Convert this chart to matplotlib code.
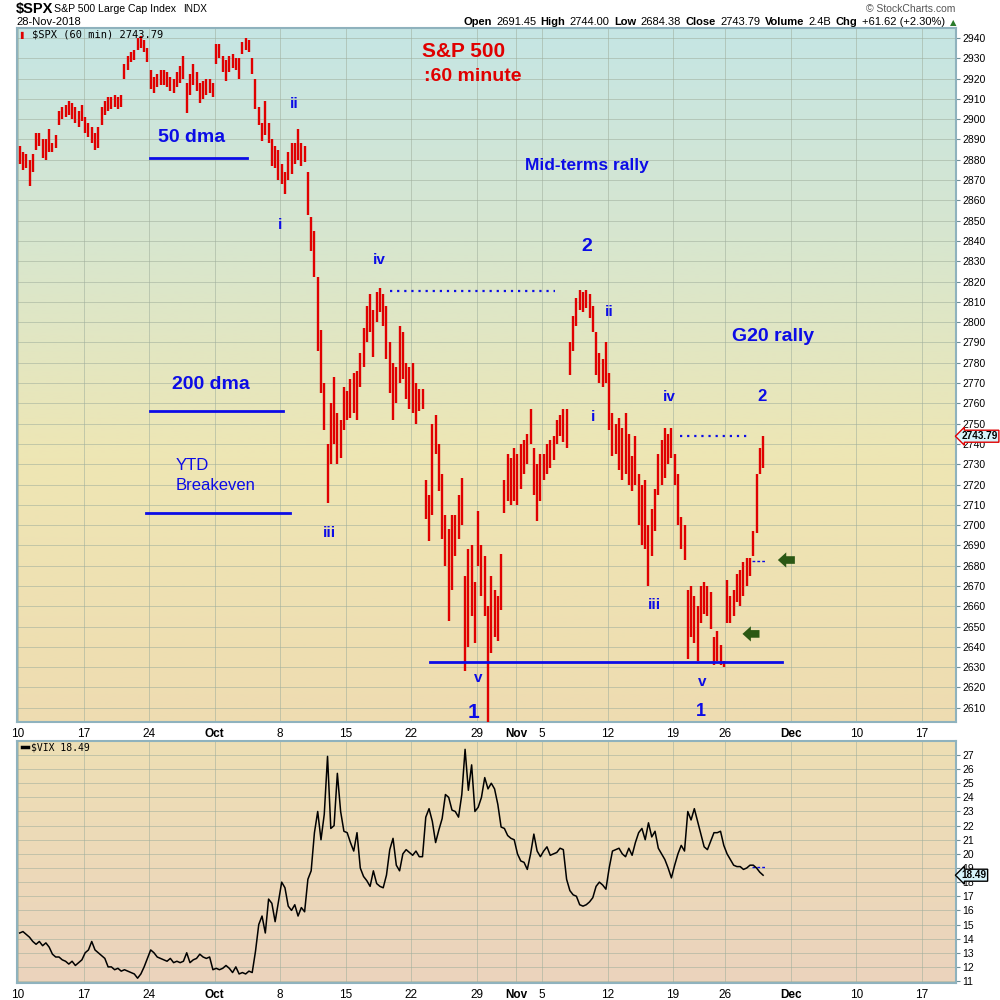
import numpy as np
import matplotlib
matplotlib.use('Agg')
import matplotlib.pyplot as plt
import matplotlib.transforms as mtransforms
from matplotlib.colors import to_rgb
from matplotlib.offsetbox import TextArea, HPacker, AnchoredOffsetbox

plt.rcParams['font.family'] = ['Liberation Sans', 'DejaVu Sans']

# x axis: trading day index, 0 = 10 Sep 2018 (Thanksgiving skipped)
tick_pos = [0, 5, 10, 15, 20, 25, 30, 35, 38, 40, 45, 50, 54, 59, 64, 69]
tick_lbl = ['10', '17', '24', 'Oct', '8', '15', '22', '29', 'Nov', '5', '12', '19', '26', 'Dec', '10', '17']
month_lbl = ['Oct', 'Nov', 'Dec']

# $SPX 60 min, 4 (low, high) bars per trading day
spx_hourly = [
    [(2878, 2887), (2875, 2884), (2876, 2883), (2867, 2880)],
    [(2874, 2883), (2885, 2893), (2887, 2893), (2881, 2890)],
    [(2880, 2890), (2884, 2895), (2884, 2888), (2886, 2892)],
    [(2897, 2904), (2900, 2906), (2901, 2907), (2902, 2909)],
    [(2900, 2908), (2898, 2906), (2896, 2904), (2899, 2907)],
    [(2893, 2901), (2891, 2898), (2888, 2896), (2885, 2893)],
    [(2886, 2896), (2897, 2906), (2902, 2909), (2904, 2911)],
    [(2905, 2911), (2906, 2912), (2905, 2911), (2906, 2912)],
    [(2920, 2927), (2924, 2931), (2928, 2933), (2929, 2934)],
    [(2934, 2940), (2935, 2941), (2933, 2939), (2928, 2935)],
    [(2915, 2924), (2913, 2921), (2916, 2922), (2917, 2924)],
    [(2917, 2924), (2916, 2923), (2914, 2921), (2913, 2920)],
    [(2916, 2923), (2918, 2926), (2920, 2931), (2903, 2918)],
    [(2912, 2922), (2917, 2927), (2914, 2923), (2908, 2918)],
    [(2910, 2919), (2912, 2920), (2913, 2920), (2911, 2918)],
    [(2927, 2937), (2930, 2937), (2923, 2931), (2919, 2929)],
    [(2923, 2931), (2925, 2932), (2924, 2930), (2920, 2930)],
    [(2932, 2938), (2934, 2940), (2933, 2939), (2922, 2930)],
    [(2905, 2920), (2897, 2906), (2889, 2898), (2892, 2909)],
    [(2888, 2898), (2877, 2890), (2876, 2887), (2870, 2885)],
    [(2868, 2878), (2863, 2874), (2870, 2884), (2873, 2888)],
    [(2878, 2888), (2880, 2895), (2877, 2888), (2879, 2887)],
    [(2853, 2874), (2835, 2852), (2822, 2845), (2786, 2822)],
    [(2765, 2796), (2747, 2770), (2711, 2740), (2730, 2760)],
    [(2740, 2773), (2730, 2755), (2733, 2752), (2747, 2768)],
    [(2752, 2766), (2753, 2772), (2755, 2775), (2752, 2776)],
    [(2768, 2785), (2778, 2797), (2790, 2808), (2795, 2814)],
    [(2783, 2806), (2800, 2815), (2805, 2817), (2798, 2814)],
    [(2782, 2808), (2765, 2790), (2752, 2780), (2760, 2778)],
    [(2770, 2798), (2772, 2795), (2762, 2780), (2757, 2778)],
    [(2755, 2780), (2750, 2770), (2756, 2767), (2757, 2767)],
    [(2703, 2722), (2692, 2715), (2705, 2750), (2735, 2754)],
    [(2717, 2740), (2693, 2725), (2680, 2705), (2653, 2698)],
    [(2668, 2705), (2685, 2705), (2693, 2715), (2700, 2723)],
    [(2628, 2675), (2640, 2688), (2655, 2690), (2642, 2672)],
    [(2680, 2707), (2665, 2690), (2655, 2685), (2603, 2660)],
    [(2637, 2675), (2645, 2668), (2643, 2665), (2658, 2686)],
    [(2706, 2722), (2712, 2735), (2710, 2733), (2712, 2738)],
    [(2710, 2735), (2718, 2740), (2725, 2742), (2730, 2745)],
    [(2740, 2757), (2715, 2738), (2702, 2730), (2712, 2735)],
    [(2722, 2735), (2725, 2740), (2728, 2742), (2732, 2744)],
    [(2740, 2752), (2744, 2754), (2741, 2757), (2738, 2757)],
    [(2774, 2790), (2786, 2803), (2798, 2812), (2806, 2816)],
    [(2805, 2815), (2807, 2816), (2802, 2814), (2795, 2808)],
    [(2774, 2795), (2770, 2785), (2768, 2782), (2770, 2790)],
    [(2747, 2775), (2734, 2755), (2735, 2750), (2727, 2753)],
    [(2722, 2748), (2725, 2755), (2720, 2745), (2717, 2734)],
    [(2720, 2744), (2700, 2725), (2690, 2720), (2688, 2722)],
    [(2670, 2700), (2685, 2708), (2697, 2718), (2715, 2735)],
    [(2720, 2742), (2723, 2748), (2730, 2745), (2733, 2748)],
    [(2720, 2735), (2700, 2725), (2688, 2704), (2683, 2700)],
    [(2634, 2668), (2645, 2670), (2642, 2665), (2633, 2660)],
    [(2652, 2670), (2656, 2672), (2655, 2670), (2649, 2667)],
    [(2631, 2645), (2633, 2648), (2631, 2641), (2630, 2633)],
    [(2652, 2673), (2652, 2665), (2655, 2668), (2662, 2676)],
    [(2660, 2678), (2665, 2682), (2670, 2684), (2675, 2684)],
    [(2685, 2697), (2696, 2725), (2725, 2738), (2728, 2744)],
]

# $VIX 60 min, 4 values per trading day
vix_hourly = [
    [14.4, 14.5, 14.3, 14.1], [13.8, 13.6, 13.8, 13.5], [13.7, 13.4, 12.9, 12.7],
    [12.7, 12.5, 12.4, 12.2], [12.4, 12.1, 12.3, 12.5], [13.0, 13.2, 13.8, 13.2],
    [13.0, 12.8, 12.6, 12.0], [12.0, 11.8, 11.9, 11.7], [11.8, 11.7, 11.6, 11.5],
    [11.2, 11.5, 12.0, 12.6], [13.2, 13.0, 12.7, 12.6], [12.5, 12.4, 12.6, 12.3],
    [12.4, 12.3, 12.4, 13.0], [12.3, 12.5, 12.6, 12.9], [12.7, 12.6, 12.7, 11.8],
    [11.9, 11.8, 11.9, 12.1], [11.9, 11.6, 12.0, 11.5], [11.6, 11.5, 11.7, 11.6],
    [13.1, 15.0, 15.6, 14.4], [16.8, 16.5, 15.2, 16.6], [18.0, 17.6, 16.3, 16.0],
    [16.4, 15.6, 16.2, 15.9], [18.2, 18.8, 21.5, 23.0], [21.0, 22.8, 26.9, 21.8],
    [22.0, 25.7, 23.0, 21.6], [21.5, 20.8, 20.2, 21.5], [19.0, 18.4, 18.1, 17.7],
    [18.8, 17.9, 17.7, 17.6], [18.5, 20.3, 21.1, 19.2], [18.8, 20.0, 20.3, 20.1],
    [19.9, 20.2, 19.8, 19.8], [22.6, 23.2, 22.3, 20.8], [21.7, 22.5, 24.2, 24.0],
    [23.1, 23.0, 22.6, 24.2], [27.4, 24.5, 26.3, 23.0], [23.3, 24.0, 25.4, 24.6],
    [25.0, 24.6, 23.5, 21.9], [21.8, 21.3, 21.1, 21.0], [20.0, 19.5, 19.4, 18.9],
    [20.0, 21.4, 20.2, 19.8], [20.2, 20.5, 19.9, 20.0], [20.1, 20.4, 20.3, 18.2],
    [17.4, 17.1, 17.0, 16.4], [16.3, 16.4, 16.6, 16.9], [17.7, 18.0, 17.8, 17.5],
    [19.0, 20.2, 20.3, 20.4], [20.0, 19.8, 20.4, 19.9], [20.8, 21.5, 21.8, 21.0],
    [22.2, 21.2, 21.6, 20.4], [20.0, 19.6, 19.0, 18.3], [19.2, 20.0, 20.6, 20.2],
    [23.0, 22.4, 23.2, 22.3], [21.4, 20.5, 20.3, 20.9], [21.5, 21.5, 21.6, 20.6],
    [20.0, 19.6, 19.2, 19.1], [19.1, 18.9, 19.0, 19.2], [19.2, 19.0, 18.7, 18.49],
]

spx_last = 2743.79
vix_last = 18.49
spx_open_today = 2682.5
vix_open_today = 19.1
spx_yticks = list(range(2610, 2941, 10))
vix_yticks = list(range(11, 28))

blue = '#0c0ce6'
red = '#e00000'

# ---------------------------------------------------------------
fig = plt.figure(figsize=(10, 10), dpi=100)
ax = fig.add_axes([0.017, 0.278, 0.939, 0.694])
axv = fig.add_axes([0.017, 0.017, 0.939, 0.242])


def gradient(a, stops):
    ys = np.linspace(0, 1, 256)
    pos = [p for p, _ in stops]
    cols = np.array([to_rgb(c) for _, c in stops])
    img = np.stack([np.interp(ys, pos, cols[:, k]) for k in range(3)], axis=-1)[:, None, :]
    a.imshow(img, extent=(0, 1, 0, 1), transform=a.transAxes, aspect='auto',
             origin='upper', zorder=0, interpolation='bilinear')


gradient(ax, [(0, '#c5e5e4'), (0.3, '#d7e6cf'), (0.62, '#eee6b4'), (1.0, '#eedcb1')])
gradient(axv, [(0, '#eedfb4'), (1.0, '#ebd3bd')])

# bars
xs, lo, hi = [], [], []
for d, day in enumerate(spx_hourly):
    for i, (l, h) in enumerate(day):
        xs.append(d + (i + 0.5) / len(day))
        lo.append(l)
        hi.append(h)
ax.vlines(xs, lo, hi, color=red, lw=1.7, zorder=3)

vx = [d + (i + 0.5) / len(day) for d, day in enumerate(vix_hourly) for i in range(len(day))]
vy = [v for day in vix_hourly for v in day]
axv.plot(vx, vy, color='black', lw=1.1, zorder=3)

xmin, xmax = -0.08, 71.6
for a, yt, ylim in [(ax, spx_yticks, (2603.0, 2944.9)), (axv, vix_yticks, (10.86, 27.99))]:
    a.set_xlim(xmin, xmax)
    a.set_ylim(*ylim)
    a.set_xticks(tick_pos)
    a.set_yticks(yt)
    a.grid(True, color='#9fae9c', lw=0.7, alpha=0.55, zorder=1)
    a.yaxis.tick_right()
    a.tick_params(axis='y', direction='out', length=3, width=0.8, color='#6f8f99',
                  labelsize=7.5, pad=1.5)
    a.tick_params(axis='x', length=0, pad=4, labelsize=8.5)
    a.set_xticklabels(tick_lbl, family=['Liberation Sans Narrow', 'Liberation Sans'])
    for t in a.get_xticklabels():
        if t.get_text() in month_lbl:
            t.set_fontweight('bold')
    for s in a.spines.values():
        s.set_color('#8fb2bd')
        s.set_linewidth(1.5)

# annotations on the price panel
ax.text(30.8, 2933.1, 'S&P 500', color=red, fontsize=15, fontweight='bold', va='center')
ax.text(31.0, 2920.8, ':60 minute', color=red, fontsize=14, fontweight='bold', va='center')

ax.text(10.7, 2891.2, '50 dma', color=blue, fontsize=14, fontweight='bold', va='center')
ax.plot([10.08, 17.48], [2880.9, 2880.9], color=blue, lw=2)
ax.text(11.75, 2769.5, '200 dma', color=blue, fontsize=14, fontweight='bold', va='center')
ax.plot([10.08, 20.2], [2756.2, 2756.2], color=blue, lw=2)
ax.text(12.06, 2729.6, 'YTD', color=blue, fontsize=12, va='center')
ax.text(12.06, 2719.3, 'Breakeven', color=blue, fontsize=12, va='center')
ax.plot([9.77, 20.76], [2706.0, 2706.0], color=blue, lw=2)

ax.text(38.7, 2877.4, 'Mid-terms rally', color=blue, fontsize=12.5, fontweight='bold', va='center')
ax.text(54.5, 2792.7, 'G20 rally', color=blue, fontsize=14, fontweight='bold', va='center')

waves = [
    (21.1, 2907.5, 'ii', 11), (20.0, 2847.9, 'i', 11), (27.6, 2830.6, 'iv', 11),
    (23.8, 2696.1, 'iii', 11), (35.1, 2624.7, 'v', 11), (34.8, 2607.9, '1', 15),
    (43.4, 2837.5, '2', 14), (45.1, 2805.0, 'ii', 11), (43.9, 2753.3, 'i', 11),
    (49.7, 2763.1, 'iv', 11), (48.6, 2660.7, 'iii', 11), (52.2, 2622.7, 'v', 11),
    (52.1, 2608.4, '1', 13), (56.8, 2763.6, '2', 12),
]
for x, y, s, fs in waves:
    ax.text(x, y, s, color=blue, fontsize=fs, fontweight='bold', ha='center', va='center')

ax.plot([28.4, 41.0], [2815.5, 2815.5], color=blue, lw=1.6, ls=(0, (1, 2.2)))
ax.plot([50.5, 55.9], [2744.0, 2744.0], color=blue, lw=1.6, ls=(0, (1, 2.2)))
ax.plot([31.45, 58.3], [2632.6, 2632.6], color=blue, lw=2, zorder=4)
ax.plot([56.0, 57.0], [spx_open_today, spx_open_today], color=blue, lw=1, ls=(0, (2, 1.5)))
axv.plot([56.0, 57.0], [vix_open_today, vix_open_today], color=blue, lw=1, ls=(0, (2, 1.5)))

arrow = dict(arrowstyle='simple,head_length=0.55,head_width=1.0,tail_width=0.5',
             color='#2b5814', lw=0, shrinkA=0, shrinkB=0, mutation_scale=11)
ax.annotate('', xy=(58.0, 2682.8), xytext=(59.3, 2682.8), arrowprops=arrow)
ax.annotate('', xy=(55.3, 2646.4), xytext=(56.6, 2646.4), arrowprops=arrow)

# last value tags
for a, val, ec in [(ax, spx_last, red), (axv, vix_last, 'black')]:
    tr = mtransforms.blended_transform_factory(a.transAxes, a.transData)
    a.text(1.006, val, f'{val:.2f}', transform=tr, fontsize=7.2, fontweight='bold',
           va='center', ha='left', zorder=6,
           bbox=dict(boxstyle='larrow,pad=0.1', fc='#d6f3fb', ec=ec, lw=1))

# panel legends
ax.text(0.0035, 0.99, '\u258c', transform=ax.transAxes, color=red, fontsize=5,
        va='center', family='DejaVu Sans')
ax.text(0.016, 0.99, f'$SPX (60 min) {spx_last:.2f}', transform=ax.transAxes, fontsize=7.5,
        va='center', family='DejaVu Sans Mono')
axv.plot([0.005, 0.012], [0.975, 0.975], transform=axv.transAxes, color='black', lw=2.5)
axv.text(0.015, 0.975, f'$VIX {vix_last:.2f}', transform=axv.transAxes, fontsize=7,
         va='center', family='DejaVu Sans Mono')

# header
fig.text(0.016, 0.991, '$SPX', fontsize=10.5, fontweight='bold', va='center')
fig.text(0.054, 0.991, 'S&P 500 Large Cap Index', fontsize=7.6, va='center')
fig.text(0.183, 0.991, 'INDX', fontsize=7.2, va='center')
fig.text(0.016, 0.978, '28-Nov-2018', fontsize=8, va='center')
fig.text(0.955, 0.991, '\u00a9 StockCharts.com', fontsize=7.5, color='#555555', ha='right', va='center')

hdr = [('Open', True), ('2691.45', False), ('High', True), ('2744.00', False),
       ('Low', True), ('2684.38', False), ('Close', True), ('2743.79', False),
       ('Volume', True), ('2.4B', False), ('Chg', True), ('+61.62 (+2.30%)', False)]
boxes = [TextArea(s, textprops=dict(fontsize=8.0, fontweight='bold' if b else 'normal'))
         for s, b in hdr]
boxes.append(TextArea('\u25b2', textprops=dict(fontsize=6, color='#2a7a2a', family='DejaVu Sans')))
pack = HPacker(children=boxes, align='baseline', pad=0, sep=3.2)
anch = AnchoredOffsetbox(loc='center right', child=pack, pad=0, borderpad=0, frameon=False,
                         bbox_to_anchor=(0.956, 0.978), bbox_transform=fig.transFigure)
fig.add_artist(anch)

fig.savefig('out.png', dpi=100, facecolor='white')
